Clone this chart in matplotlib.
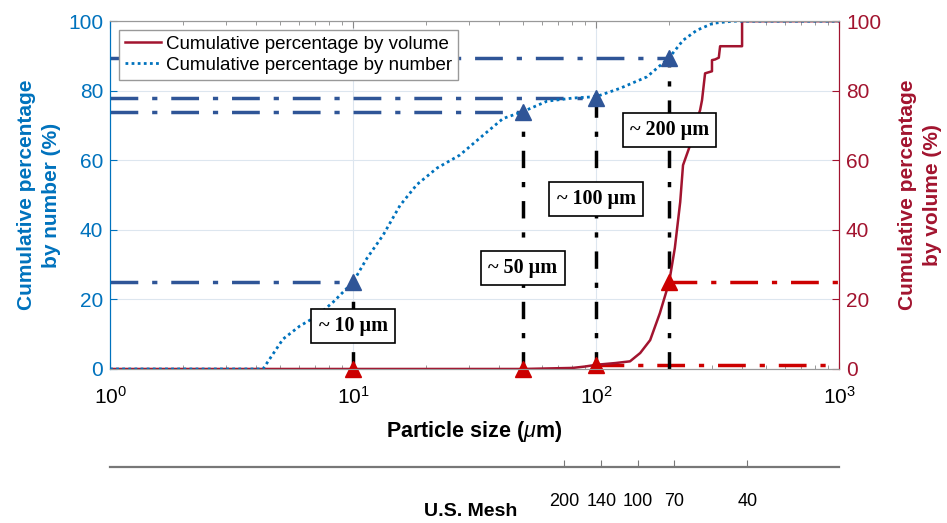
import matplotlib.pyplot as plt
from matplotlib.ticker import FixedLocator, NullLocator, LogLocator, NullFormatter

plt.rcParams['font.family'] = ['Liberation Sans', 'DejaVu Sans']
plt.rcParams['mathtext.fontset'] = 'custom'
plt.rcParams['mathtext.rm'] = 'Liberation Sans'
plt.rcParams['mathtext.it'] = 'Liberation Sans:italic'
plt.rcParams['mathtext.bf'] = 'Liberation Sans:bold'

# cumulative distribution by number (um, %)
num_size = [1, 4.26, 5.15, 6.05, 7.1, 8.3, 10, 11.4, 13.3, 15.6, 18.3, 22.2, 27.5, 34.3,
            41.4, 50, 62.9, 80.4, 100, 125.6, 162, 200, 228, 260, 303, 366, 1000]
num_pct = [0, 0, 8.6, 12.4, 15.2, 19.3, 25, 31.8, 38.5, 47, 53, 57.8, 61.5, 67.2,
           72, 74, 77, 77.9, 78.3, 80.7, 84, 89.5, 94.5, 97.4, 99.4, 100, 100]

# cumulative distribution by volume (um, %)
vol_size = [1, 50, 80, 90, 100, 120, 138, 152, 167, 183, 200, 211, 222, 228, 244, 255,
            268, 273, 281, 300, 300, 309, 320, 324, 399, 399, 1000]
vol_pct = [0, 0, 0.3, 0.7, 1.2, 1.7, 2.2, 4.6, 8.3, 16, 25, 34.8, 48, 58.6, 64.4, 70,
           74.4, 77.3, 85, 85.6, 88.8, 89, 89.5, 92.8, 92.8, 100, 100]

# reference sizes and the values read at them
ref_size = [10, 50, 100, 200]
ref_num = [25, 74, 78, 89.5]
ref_vol = [0, 0, 1.2, 25]
ref_text = ['~ 10 \u00b5m', '~ 50 \u00b5m', '~ 100 \u00b5m', '~ 200 \u00b5m']
ref_text_y = [12.4, 29, 49, 68.7]

# U.S. mesh sieve openings
mesh_size = [74, 105, 149, 210, 420]
mesh_label = ['200', '140', '100', '70', '40']

c_left = '#0072BD'
c_right = '#A2142F'
c_blue_mark = '#2F5597'
c_red_mark = '#CC0000'

fig = plt.figure(figsize=(9.47, 5.23), dpi=100)
ax = fig.add_axes([0.1162, 0.2945, 0.7698, 0.665])

ax.plot(vol_size, vol_pct, color=c_right, lw=1.8, label='Cumulative percentage by volume', zorder=3)
ax.plot(num_size, num_pct, color=c_left, lw=2, ls=(0, (1, 1.2)), label='Cumulative percentage by number', zorder=3)

# guide lines to the reference sizes
for s, yn, yv, t, ty in zip(ref_size, ref_num, ref_vol, ref_text, ref_text_y):
    ax.plot([1, s], [yn, yn], color=c_blue_mark, lw=2.5, dashes=(8, 4, 1.5, 4), zorder=2)
    ax.plot([s, s], [0, yn], color='black', lw=2.5, dashes=(5, 4, 1.5, 4), zorder=2)
    if yv > 0:
        ax.plot([s, 1000], [yv, yv], color=c_red_mark, lw=2.5, dashes=(8, 4, 1.5, 4), zorder=2)
    ax.text(s, ty, t, ha='center', va='center', fontsize=14.5, fontweight='bold',
            family=['Liberation Serif', 'DejaVu Serif'], zorder=5,
            bbox=dict(boxstyle='square,pad=0.35', fc='white', ec='black', lw=1.2))

ax.plot(ref_size, ref_num, ls='none', marker='^', ms=12, color=c_blue_mark, zorder=4, clip_on=False)
ax.plot(ref_size, ref_vol, ls='none', marker='^', ms=12, color=c_red_mark, zorder=4, clip_on=False)

ax.set_xscale('log')
ax.set_xlim(1, 1000)
ax.set_ylim(0, 100)
ax.set_yticks([0, 20, 40, 60, 80, 100])
ax.xaxis.set_minor_locator(LogLocator(base=10, subs=range(2, 10)))
ax.xaxis.set_minor_formatter(NullFormatter())
ax.tick_params(axis='x', which='both', direction='in', top=True, labelsize=15, pad=12,
               color='#888888')
ax.tick_params(axis='x', which='major', length=5)
ax.tick_params(axis='x', which='minor', length=3)
ax.tick_params(axis='y', direction='in', length=5, labelsize=15, colors=c_left, pad=5)
ax.grid(True, which='major', color='#dde6ef', lw=0.8)
ax.set_axisbelow(True)
for side in ['top', 'bottom']:
    ax.spines[side].set_color('#999999')
ax.spines['left'].set_color(c_left)
ax.spines['right'].set_color(c_right)

ax.set_ylabel('Cumulative percentage\nby number (%)', color=c_left, fontsize=15,
              fontweight='bold', labelpad=5, linespacing=1.4)
ax.set_xlabel('Particle size ($\\mu$m)', fontsize=15.5, fontweight='bold', labelpad=8)

ax2 = ax.twinx()
ax2.set_ylim(0, 100)
ax2.set_yticks([0, 20, 40, 60, 80, 100])
ax2.tick_params(axis='y', direction='in', length=5, labelsize=15, colors=c_right, pad=5)
ax2.spines['right'].set_color(c_right)
ax2.spines['left'].set_color(c_left)
ax2.spines['top'].set_color('#999999')
ax2.spines['bottom'].set_color('#999999')
ax2.set_ylabel('Cumulative percentage\nby volume (%)', color=c_right, fontsize=15,
               fontweight='bold', rotation=90, labelpad=12, linespacing=1.4)

leg = ax.legend(loc='upper left', bbox_to_anchor=(0.005, 0.99), fontsize=13.5,
                fancybox=False, edgecolor='#999999', framealpha=1, handlelength=1.9,
                handletextpad=0.3, borderpad=0.3, labelspacing=0.2, borderaxespad=0.3)
leg.set_zorder(6)

# U.S. mesh scale under the size axis
axm = fig.add_axes([0.1162, 0.107, 0.7698, 0.001])
axm.set_xscale('log')
axm.set_xlim(1, 1000)
axm.set_yticks([])
for side in ['left', 'right', 'top']:
    axm.spines[side].set_visible(False)
axm.spines['bottom'].set_color('#777777')
axm.spines['bottom'].set_linewidth(1.6)
axm.xaxis.set_major_locator(FixedLocator(mesh_size))
axm.xaxis.set_minor_locator(NullLocator())
axm.set_xticklabels(mesh_label)
axm.tick_params(axis='x', direction='in', length=5, color='#777777', labelsize=13, pad=19)
axm.patch.set_visible(False)
fig.text(0.497, 1 - 512 / 523, 'U.S. Mesh', ha='center', va='center', fontsize=14,
         fontweight='bold')

fig.savefig('out.png', dpi=100)
